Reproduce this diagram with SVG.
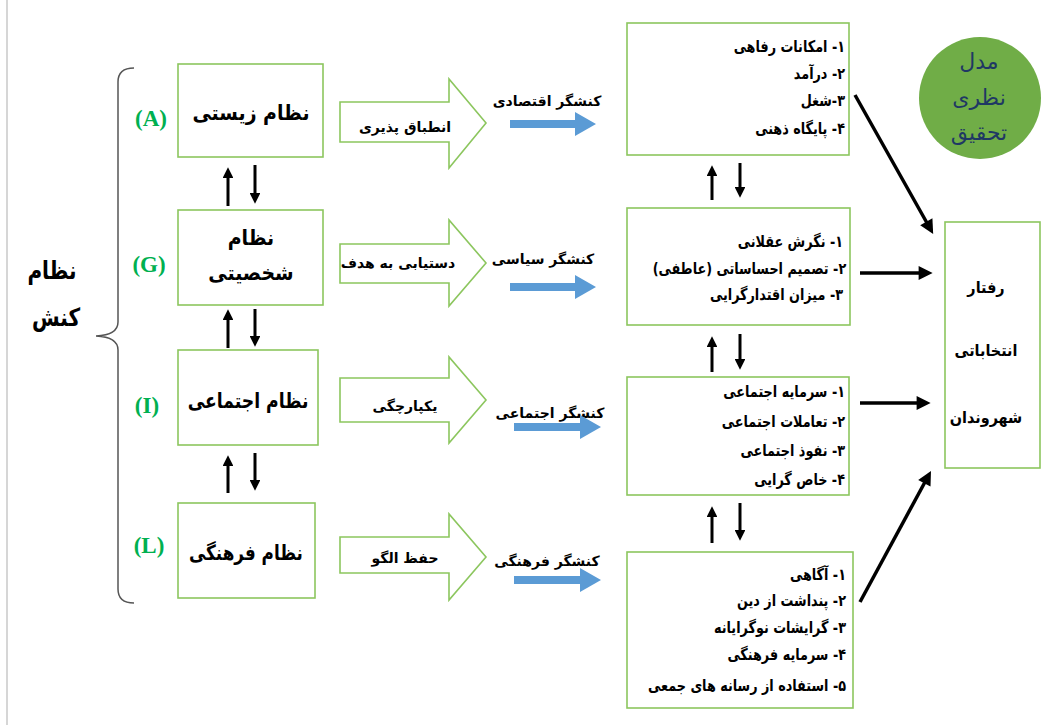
<svg xmlns="http://www.w3.org/2000/svg" width="1041" height="725" viewBox="0 0 1041 725">
<style>
.box{fill:#fff;stroke:#8cc65e;stroke-width:1.6}
.blk{fill:#fff;stroke:#8cc65e;stroke-width:1.6}
.blue{fill:#5b9bd5}
.fa{font-family:"DejaVu Sans",sans-serif;font-weight:bold;fill:#000}
.rtl{direction:rtl}
.lbl{font-family:"Liberation Serif",serif;font-weight:bold;fill:#00b050;font-size:23px}
.ln{stroke:#000;fill:none}
</style>
<defs>
<marker id="ah" viewBox="0 0 10 10" refX="1" refY="5" markerWidth="4" markerHeight="3.6" orient="auto" markerUnits="strokeWidth"><path d="M0,0 L10,5 L0,10 z" fill="#000"/></marker>
<marker id="ah2" viewBox="0 0 10 10" refX="1" refY="5" markerWidth="4.5" markerHeight="4" orient="auto" markerUnits="strokeWidth"><path d="M0,0 L10,5 L0,10 z" fill="#000"/></marker>
</defs>
<rect width="1041" height="725" fill="#fff"/>
<line x1="7" y1="0" x2="7" y2="725" stroke="#c8c8c8" stroke-width="1.5"/>

<g id="bracket">
<path d="M134,68 Q118,68 118,82 V322 Q118,335 96,336 Q118,337 118,350 V589 Q118,603 134,603" fill="none" stroke="#555" stroke-width="1.5"/>
<text class="fa rtl" transform="translate(52,279) scale(0.8,1)" font-size="25" text-anchor="middle">نظام</text>
<text class="fa rtl" transform="translate(56,326) scale(0.8,1)" font-size="25" text-anchor="middle">کنش</text>
</g>

<g id="labels">
<text class="lbl" x="151" y="126" text-anchor="middle">(A)</text>
<text class="lbl" x="149" y="272" text-anchor="middle">(G)</text>
<text class="lbl" x="147" y="413" text-anchor="middle">(I)</text>
<text class="lbl" x="149" y="553" text-anchor="middle">(L)</text>
</g>

<g id="nodeA"><rect class="box" x="178" y="64" width="145" height="93"/><text class="fa rtl" transform="translate(251,120) scale(0.9,1)" font-size="21" text-anchor="middle">نظام زیستی</text></g>
<g id="nodeG"><rect class="box" x="178" y="210" width="145" height="95"/><text class="fa rtl" transform="translate(251,245) scale(0.9,1)" font-size="21" text-anchor="middle">نظام</text><text class="fa rtl" transform="translate(251,280) scale(0.9,1)" font-size="21" text-anchor="middle">شخصیتی</text></g>
<g id="nodeI"><rect class="box" x="178" y="350" width="140" height="95"/><text class="fa rtl" transform="translate(248,408) scale(0.82,1)" font-size="21" text-anchor="middle">نظام اجتماعی</text></g>
<g id="nodeL"><rect class="box" x="178" y="503" width="137" height="95"/><text class="fa rtl" transform="translate(246,560) scale(0.8,1)" font-size="21" text-anchor="middle">نظام فرهنگی</text></g>

<g id="func1"><path class="blk" d="M340,102 H449 V79 L486,123 L449,168 V142 H340 Z"/><text class="fa rtl" x="405" y="132" font-size="14" text-anchor="middle">انطباق پذیری</text></g>
<g id="func2"><path class="blk" d="M340,244 H449 V220 L486,263 L449,306 V283 H340 Z"/><text class="fa rtl" x="398" y="268" font-size="14" text-anchor="middle">دستیابی به هدف</text></g>
<g id="func3"><path class="blk" d="M340,378 H449 V357 L486,400 L449,443 V422 H340 Z"/><text class="fa rtl" x="405" y="411" font-size="14" text-anchor="middle">یکپارچگی</text></g>
<g id="func4"><path class="blk" d="M340,537 H449 V514 L486,557 L449,600 V573 H340 Z"/><text class="fa rtl" x="405" y="563" font-size="14" text-anchor="middle">حفظ الگو</text></g>

<g id="actor1"><text class="fa rtl" x="547" y="106" font-size="14" text-anchor="middle">کنشگر اقتصادی</text><path class="blue" d="M510,120 H575 V112 L596,124 L575,136 V128 H510 Z"/></g>
<g id="actor2"><text class="fa rtl" x="543" y="264" font-size="14" text-anchor="middle">کنشگر سیاسی</text><path class="blue" d="M510,283 H575 V275 L596,287 L575,299 V291 H510 Z"/></g>
<g id="actor3"><text class="fa rtl" x="550" y="418" font-size="14" text-anchor="middle">کنشگر اجتماعی</text><path class="blue" d="M514,423 H580 V415 L601,427 L580,439 V431 H514 Z"/></g>
<g id="actor4"><text class="fa rtl" x="547" y="566" font-size="14" text-anchor="middle">کنشگر فرهنگی</text><path class="blue" d="M514,576 H580 V568 L601,580 L580,592 V584 H514 Z"/></g>

<g id="box1"><rect class="box" x="627" y="23" width="222" height="132"/>
<g class="fa rtl" font-size="16" text-anchor="start" transform="translate(845,0) scale(0.8,1)">
<text x="0" y="52">۱- امکانات رفاهی</text>
<text x="0" y="79">۲- درآمد</text>
<text x="0" y="106">۳-شغل</text>
<text x="0" y="134">۴- پایگاه ذهنی</text>
</g></g>
<g id="box2"><rect class="box" x="627" y="208" width="223" height="117"/>
<g class="fa rtl" font-size="16" text-anchor="start" transform="translate(843,0) scale(0.8,1)">
<text x="0" y="247">۱- نگرش عقلانی</text>
<text x="4" y="274">۲- تصمیم احساساتی (عاطفی)</text>
<text x="0" y="300">۳- میزان اقتدارگرایی</text>
</g></g>
<g id="box3"><rect class="box" x="627" y="377" width="222" height="118"/>
<g class="fa rtl" font-size="16" text-anchor="start" transform="translate(845,0) scale(0.8,1)">
<text x="0" y="397">۱- سرمایه اجتماعی</text>
<text x="0" y="427">۲- تعاملات اجتماعی</text>
<text x="0" y="456">۳- نفوذ اجتماعی</text>
<text x="0" y="485">۴- خاص گرایی</text>
</g></g>
<g id="box4"><rect class="box" x="627" y="552" width="226" height="156"/>
<g class="fa rtl" font-size="16" text-anchor="start" transform="translate(846,0) scale(0.8,1)">
<text x="0" y="580">۱- آگاهی</text>
<text x="0" y="606">۲- پنداشت از دین</text>
<text x="0" y="633">۳- گرایشات نوگرایانه</text>
<text x="0" y="660">۴- سرمایه فرهنگی</text>
<text x="0" y="691">۵- استفاده از رسانه های جمعی</text>
</g></g>

<g id="result"><rect class="box" x="945" y="222" width="95" height="246"/>
<g class="fa rtl" font-size="16" text-anchor="middle">
<text transform="translate(986,293) scale(0.9,1)">رفتار</text>
<text transform="translate(986,356) scale(0.9,1)">انتخاباتی</text>
<text transform="translate(986,423) scale(0.9,1)">شهروندان</text>
</g></g>

<g id="model"><circle cx="980" cy="98" r="61" fill="#70ad47"/>
<g font-family="DejaVu Sans,sans-serif" fill="#1f3864" font-size="22" text-anchor="middle" class="rtl">
<text x="979" y="69">مدل</text>
<text x="979" y="105">نظری</text>
<text x="979" y="140">تحقیق</text>
</g></g>

<g id="connectors" class="ln">
<g stroke-width="3" marker-end="url(#ah)">
<line x1="228" y1="206" x2="228" y2="177"/>
<line x1="255" y1="165" x2="255" y2="194"/>
<line x1="228" y1="348" x2="228" y2="319"/>
<line x1="255" y1="309" x2="255" y2="337"/>
<line x1="228" y1="493" x2="228" y2="465"/>
<line x1="255" y1="453" x2="255" y2="481"/>
<line x1="712" y1="200" x2="712" y2="175"/>
<line x1="740" y1="163" x2="740" y2="188"/>
<line x1="712" y1="372" x2="712" y2="346"/>
<line x1="740" y1="334" x2="740" y2="360"/>
<line x1="712" y1="543" x2="712" y2="516"/>
<line x1="740" y1="503" x2="740" y2="531"/>
</g>
<g stroke-width="3.5" marker-end="url(#ah2)">
<line x1="855" y1="95" x2="927" y2="223"/>
<line x1="860" y1="273" x2="920" y2="273"/>
<line x1="860" y1="403" x2="918" y2="403"/>
<line x1="860" y1="602" x2="925" y2="482"/>
</g>
</g>
</svg>
